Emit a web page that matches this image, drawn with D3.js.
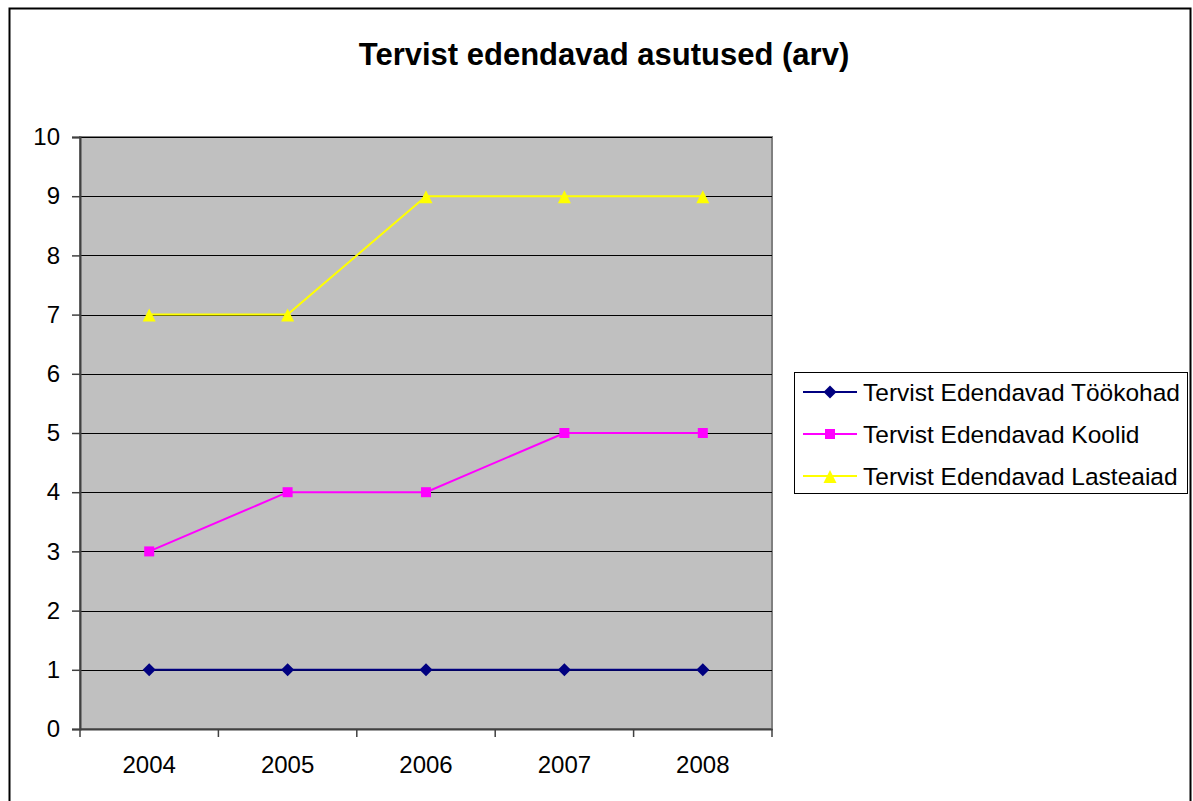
<!DOCTYPE html>
<html>
<head>
<meta charset="utf-8">
<script src="https://cdn.jsdelivr.net/npm/d3@7"></script>
<style>
  body { margin: 0; background: #fff; }
  svg { display: block; font-family: Arial, "Liberation Sans", sans-serif; }
</style>
</head>
<body>
<div id="chart"></div>
<script>
// chart data
var years = ["2004", "2005", "2006", "2007", "2008"];
var yTicks = [0, 1, 2, 3, 4, 5, 6, 7, 8, 9, 10];
var seriesNames = ["Tervist Edendavad Töökohad", "Tervist Edendavad Koolid", "Tervist Edendavad Lasteaiad"];
var tookohad = [1, 1, 1, 1, 1];
var koolid = [3, 4, 4, 5, 5];
var lasteaiad = [7, 7, 9, 9, 9];

var seriesColors = ["#000080", "#FF00FF", "#FFFF00"];

// marker shapes, excel-style
var markerPaths = [
  "M0,-6.5L6.5,0L0,6.5L-6.5,0Z",          // diamond
  "M-5,-5L5,-5L5,5L-5,5Z",                // square
  "M0,-6L6.5,7L-6.5,7Z"                   // triangle
];

var W = 1193, H = 801;
var plot = {left: 80, top: 137, right: 772, bottom: 729};

var svg = d3.select("#chart").append("svg")
    .attr("width", W).attr("height", H);

// outer border
svg.append("rect")
    .attr("x", 9.5).attr("y", 8.5)
    .attr("width", 1181).attr("height", 800)
    .attr("fill", "#fff").attr("stroke", "#000").attr("stroke-width", 2);

// title
svg.append("text")
    .attr("x", 604).attr("y", 65)
    .attr("text-anchor", "middle")
    .style("font-size", "31px").style("font-weight", "bold")
    .text("Tervist edendavad asutused (arv)");

var x = d3.scaleBand()
    .domain(years)
    .range([plot.left, plot.right]);

var y = d3.scaleLinear()
    .domain([0, 10])
    .range([plot.bottom, plot.top]);

// plot background
svg.append("rect")
    .attr("x", plot.left).attr("y", plot.top)
    .attr("width", plot.right - plot.left).attr("height", plot.bottom - plot.top)
    .attr("fill", "#C0C0C0")
    .attr("stroke", "#808080").attr("stroke-width", 2);

// gridlines
svg.append("g").selectAll("line")
    .data(yTicks.filter(function(d) { return d > 0; }))
    .enter().append("line")
    .attr("x1", plot.left).attr("x2", plot.right)
    .attr("y1", function(d) { return Math.round(y(d)) + 0.5; })
    .attr("y2", function(d) { return Math.round(y(d)) + 0.5; })
    .attr("stroke", "#000").attr("stroke-width", 1);

// y axis
var yAxis = svg.append("g")
    .attr("transform", "translate(" + plot.left + ",0)")
    .call(d3.axisLeft(y).tickValues(yTicks).tickSize(8).tickPadding(12).tickFormat(d3.format("d")));
yAxis.select(".domain").attr("stroke", "#404040").attr("stroke-width", 2);
yAxis.selectAll(".tick line").attr("stroke", "#404040").attr("stroke-width", 1.5);
yAxis.selectAll("text").style("font-size", "24px").attr("fill", "#000");

// x axis
var xAxis = svg.append("g")
    .attr("transform", "translate(0," + plot.bottom + ")")
    .call(d3.axisBottom(x).tickSize(0).tickPadding(27));
xAxis.select(".domain").attr("stroke", "#404040").attr("stroke-width", 2);
xAxis.selectAll("text").style("font-size", "24px").attr("fill", "#000");
// category boundary ticks
var bounds = years.map(function(d) { return x(d); }).concat([plot.right]);
xAxis.selectAll(".bound")
    .data(bounds)
    .enter().append("line")
    .attr("class", "bound")
    .attr("x1", function(d) { return d; }).attr("x2", function(d) { return d; })
    .attr("y1", 0).attr("y2", 8)
    .attr("stroke", "#404040").attr("stroke-width", 1.5);

// series
var allSeries = [tookohad, koolid, lasteaiad];
var line = d3.line()
    .x(function(d, i) { return x(years[i]) + x.bandwidth() / 2; })
    .y(function(d) { return y(d); });

allSeries.forEach(function(values, s) {
  svg.append("path")
      .datum(values)
      .attr("fill", "none")
      .attr("stroke", seriesColors[s])
      .attr("stroke-width", 2)
      .attr("d", line);
  svg.append("g").selectAll("path")
      .data(values)
      .enter().append("path")
      .attr("transform", function(d, i) {
        return "translate(" + (x(years[i]) + x.bandwidth() / 2) + "," + y(d) + ")";
      })
      .attr("d", markerPaths[s])
      .attr("fill", seriesColors[s]);
});

// legend
var legend = svg.append("g");
legend.append("rect")
    .attr("x", 794.5).attr("y", 372.5)
    .attr("width", 393).attr("height", 121)
    .attr("fill", "#fff").attr("stroke", "#000").attr("stroke-width", 1);

seriesNames.forEach(function(name, s) {
  var ly = 392 + s * 42;
  legend.append("line")
      .attr("x1", 803).attr("x2", 857)
      .attr("y1", ly).attr("y2", ly)
      .attr("stroke", seriesColors[s]).attr("stroke-width", 2);
  legend.append("path")
      .attr("transform", "translate(830," + ly + ")")
      .attr("d", markerPaths[s])
      .attr("fill", seriesColors[s]);
  legend.append("text")
      .attr("x", 863).attr("y", ly)
      .attr("dy", "0.35em")
      .style("font-size", "24.5px")
      .text(name);
});
</script>
</body>
</html>
